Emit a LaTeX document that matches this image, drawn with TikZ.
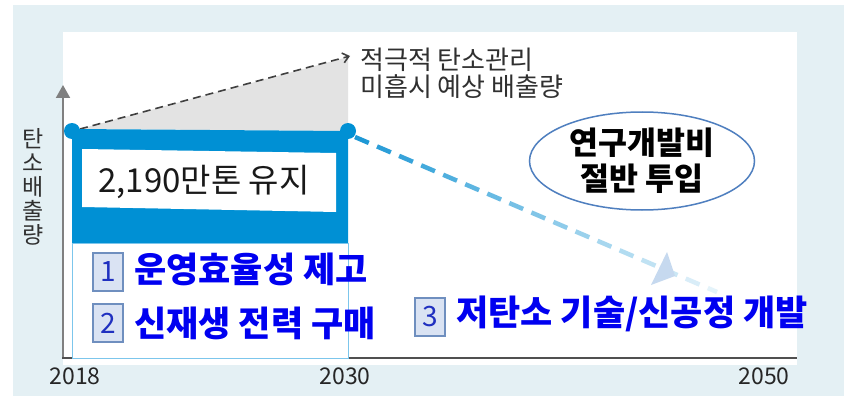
\documentclass[tikz,border=0pt]{standalone}
\usepackage{fontspec}
\setmainfont{Noto Sans CJK KR}
\usetikzlibrary{arrows.meta,calc,shapes.geometric}
\definecolor{bgblue}{HTML}{E4F0F4}
\definecolor{grayfill}{HTML}{E3E3E3}
\definecolor{darkdash}{HTML}{404040}
\definecolor{axisgray}{HTML}{808080}
\definecolor{axisdark}{HTML}{505050}
\definecolor{bandblue}{HTML}{0090D4}
\definecolor{thinblue}{HTML}{7CC6EC}
\definecolor{dashblue}{HTML}{1E98D5}
\definecolor{headblue}{HTML}{C6D9EF}
\definecolor{ellblue}{HTML}{4F7FBF}
\definecolor{boxfill}{HTML}{DAE3F3}
\definecolor{boxborder}{HTML}{6F8FBF}
\definecolor{digitblue}{HTML}{2030C0}
\definecolor{itemblue}{HTML}{0000F0}
\definecolor{annot}{HTML}{303030}
\tikzset{
  dotnode/.style={circle, fill=bandblue, minimum size=16pt, inner sep=0pt},
  numbox/.style={draw=boxborder, fill=boxfill, line width=1.5pt, minimum width=30pt, minimum height=38pt, inner sep=0pt, text=digitblue, font=\fontsize{28}{28}\selectfont},
  itemtext/.style={anchor=west, inner sep=0pt, text=itemblue, font=\bfseries\fontsize{35}{35}\selectfont},
  yeartext/.style={inner sep=0pt, text=black!85, font=\fontsize{23}{23}\selectfont},
}
\begin{document}
\begin{tikzpicture}[x=1pt,y=-1pt]
\useasboundingbox (0,0) rectangle (844,396);
\fill[bgblue] (13,5) rectangle (844,396);
\fill[white] (63,32) rectangle (797,365);
% projected emissions (gray)
\coordinate (s) at (80,129);
\coordinate (e) at (350,56);
\fill[grayfill] (s) -- (348,57) -- (348,131) -- cycle;
\draw[darkdash, line width=1.6pt, dash pattern=on 8pt off 5pt, -{Straight Barb[length=6pt,width=10pt]}] (s) -- (e);
\node[anchor=west, inner sep=0pt, text=annot, align=left, font=\fontsize{26}{27}\selectfont] (note) at (360,73) {적극적 탄소관리\\미흡시 예상 배출량};
% axes
\coordinate (o) at (63,358);
\coordinate (ytop) at (63,85);
\coordinate (xend) at (797,358);
\draw[axisgray, line width=2pt, -{Triangle[length=13pt,width=14pt]}] (o) -- (ytop);
\draw[axisdark, line width=1.5pt] (62,358) -- (xend);
\node[inner sep=0pt, align=center, text=annot, font=\fontsize{23}{24}\selectfont] (ylab) at (33,187) {탄\\소\\배\\출\\량};
\node[yeartext] (y1) at (75,376) {2018};
\node[yeartext] (y2) at (345,376) {2030};
\node[yeartext] (y3) at (764,376) {2050};
% blue band
\fill[bandblue] (72,129) -- (348,131) -- (348,243) -- (72,243) -- cycle;
\fill[white] (82,149) -- (336,153) -- (336,212) -- (82,207) -- cycle;
\draw[thinblue, line width=1pt, fill=white] (72,243) rectangle (348,358);
\node[dotnode] (d1) at (72,131) {};
\node[dotnode] (d2) at (348,131) {};
\node[inner sep=0pt, text=black!90, font=\fontsize{33}{33}\selectfont] (keep) at (204,182) {2,190만톤 유지};
% blue dashed decline
\coordinate (ds) at (355,137);
\coordinate (de) at (717,292);
\foreach \i in {0,...,16} {
  \pgfmathsetmacro\ta{\i*24/394}
  \pgfmathsetmacro\tb{min(1,(\i*24+15)/394)}
  \pgfmathtruncatemacro\mx{100-\i*5.5}
  \draw[line width=4.5pt, color=dashblue!\mx!white] ($(ds)!\ta!(de)$) -- ($(ds)!\tb!(de)$);
}
\fill[headblue] (667,252) -- (651,285) -- (675,276) -- cycle;
% R&D ellipse
\node[draw=ellblue, line width=1.5pt, ellipse, minimum width=225pt, minimum height=98pt, inner sep=0pt] (rd) at (642,161) {};
\node[inner sep=0pt, align=center, font=\bfseries\fontsize{31.5}{36}\selectfont] (rdtext) at (rd.center) {연구개발비\\절반 투입};
% items
\node[numbox] (b1) at (108,272) {1};
\node[itemtext] (t1) at (134,269) {운영효율성 제고};
\node[numbox] (b2) at (108,323) {2};
\node[itemtext] (t2) at (134,323) {신재생 전력 구매};
\node[numbox] (b3) at (430,317) {3};
\node[itemtext] (t3) at (456,314) {저탄소 기술/신공정 개발};
\end{tikzpicture}
\end{document}
